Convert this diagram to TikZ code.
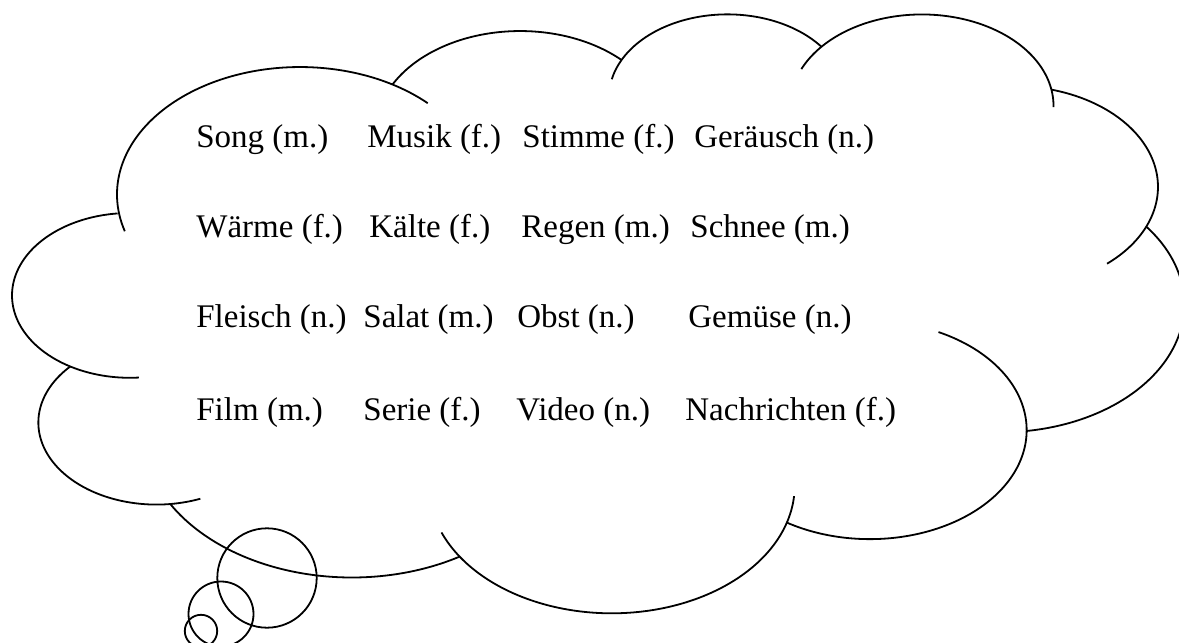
\documentclass[tikz,border=0pt]{standalone}
\usepackage{fontspec}
\setmainfont{Liberation Serif}
% one lobe of the cloud: centre (#1,#2), radii #3 x #4, geometric angles #5 to #6
\newcommand{\cloudlobe}[6]{%
  \draw[cloudarc] plot[domain=#5:#6, samples=140, variable=\t]
    ({#1 + #3*#4/sqrt((#4*cos(\t))^2+(#3*sin(\t))^2)*cos(\t)},
     {#2 + #3*#4/sqrt((#4*cos(\t))^2+(#3*sin(\t))^2)*sin(\t)});}
\begin{document}
\begin{tikzpicture}[x=0.5pt,y=-0.5pt,
  cloudarc/.style={draw=black, line width=0.9pt},
  bubble/.style={draw=black, line width=0.9pt},
  word/.style={anchor=base west, inner sep=0pt, font=\fontsize{16.5}{20}\selectfont}]
\useasboundingbox (0,0) rectangle (1179,643);
% cloud outline (lobes with their inner overshoots)
\begin{scope}[shift={(6.5pt,-6.2pt)}, x=1.355pt, y=-0.693pt]
  \cloudlobe{105.91}{131.32}{67.53}{91.90}{-202.35}{-54.39}
  \cloudlobe{187.14}{86.12}{53.33}{72.67}{-144.10}{-54.15}
  \cloudlobe{263.62}{60.87}{43.65}{59.45}{-163.49}{-46.09}
  \cloudlobe{335.38}{67.43}{48.57}{65.95}{-149.18}{1.12}
  \cloudlobe{369.17}{125.90}{53.33}{72.73}{-78.71}{58.07}
  \cloudlobe{364.45}{210.73}{67.75}{92.20}{-46.27}{84.00}
  \cloudlobe{316.19}{301.37}{57.85}{78.67}{-70.29}{114.65}
  \cloudlobe{220.93}{341.41}{67.52}{92.15}{6.45}{151.70}
  \cloudlobe{125.03}{302.29}{77.20}{105.43}{66.24}{141.95}
  \cloudlobe{52.96}{295.93}{43.60}{59.18}{73.61}{231.80}
  \cloudlobe{43.09}{204.18}{43.45}{59.45}{86.74}{265.69}
\end{scope}
% thought bubbles
\draw[bubble] (267,578) circle[radius=24.85pt];
\draw[bubble] (221,614) circle[radius=16.25pt];
\draw[bubble] (201,631) circle[radius=8.1pt];
% words
\node[word] (w11) at (196,147) {Song (m.)};
\node[word] (w12) at (367,147) {Musik (f.)};
\node[word] (w13) at (522,147) {Stimme (f.)};
\node[word] (w14) at (694,147) {Geräusch (n.)};
\node[word] (w21) at (196,237) {Wärme (f.)};
\node[word] (w22) at (369,237) {Kälte (f.)};
\node[word] (w23) at (521,237) {Regen (m.)};
\node[word] (w24) at (690,237) {Schnee (m.)};
\node[word] (w31) at (196,327) {Fleisch (n.)};
\node[word] (w32) at (363,327) {Salat (m.)};
\node[word] (w33) at (517,327) {Obst (n.)};
\node[word] (w34) at (688,327) {Gemüse (n.)};
\node[word] (w41) at (196,420) {Film (m.)};
\node[word] (w42) at (363,420) {Serie (f.)};
\node[word] (w43) at (516,420) {Video (n.)};
\node[word] (w44) at (685,420) {Nachrichten (f.)};
\end{tikzpicture}
\end{document}
